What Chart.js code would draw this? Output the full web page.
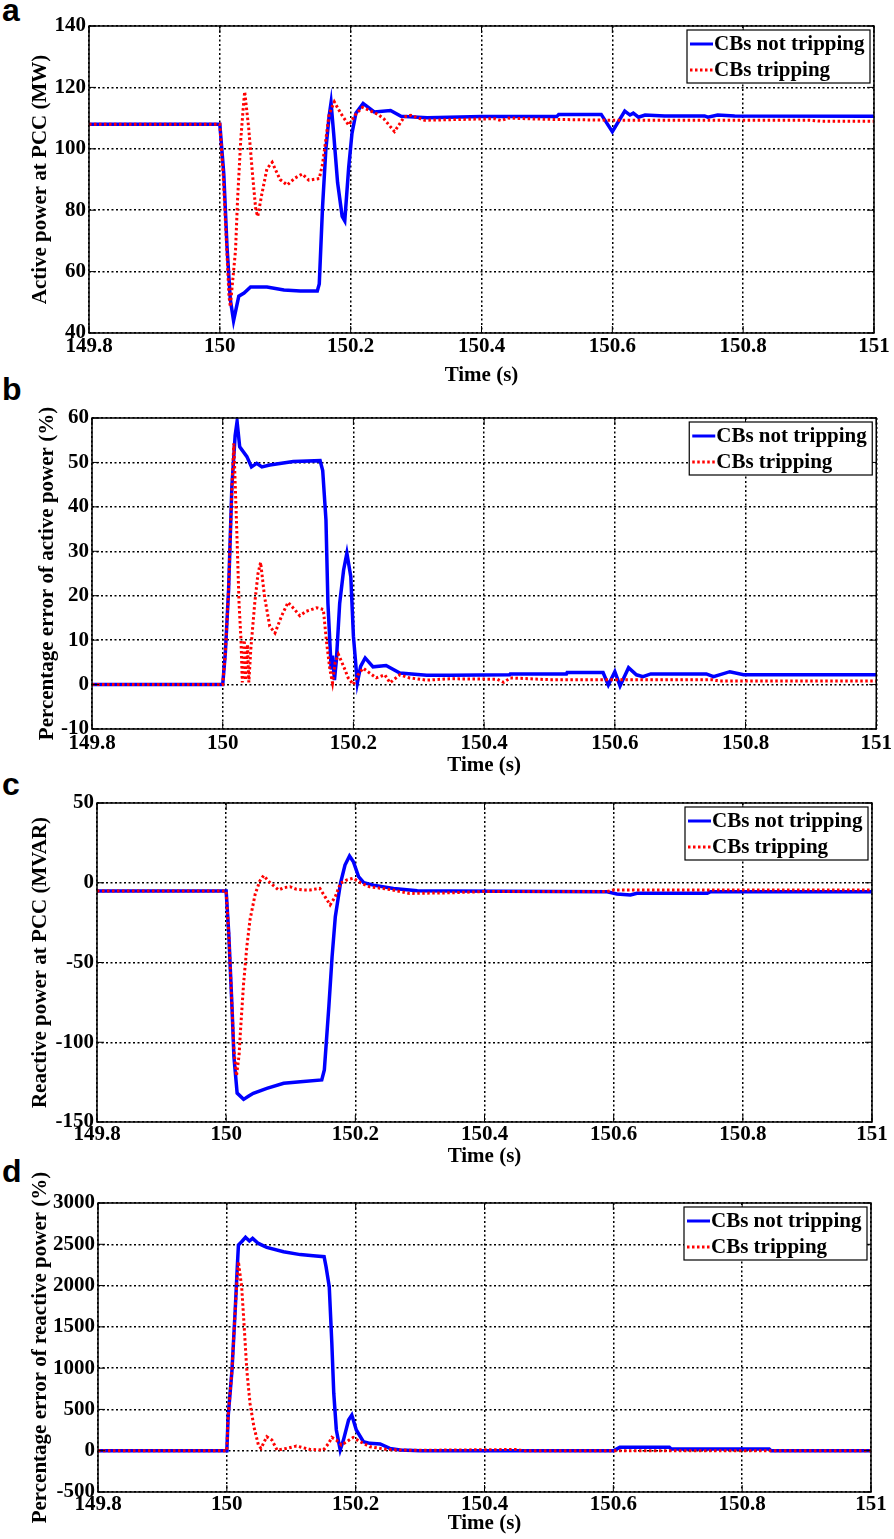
<!DOCTYPE html>
<html lang="en">
<head>
  <meta charset="UTF-8">
  <title>CBs tripping vs not tripping</title>
  <script src="https://cdn.jsdelivr.net/npm/chart.js"></script>
  <style>
    body { margin: 0; background: #fff; width: 894px; height: 1539px; position: relative; overflow: hidden; }
    canvas { position: absolute; left: 0; }
    .tag { position: absolute; left: 2px; font: bold 32px 'Liberation Sans', Arial, sans-serif; line-height: 1; }
  </style>
</head>
<body>
  <div class="tag" style="top:-6px">a</div>
  <div class="tag" style="top:373px">b</div>
  <div class="tag" style="top:768px">c</div>
  <div class="tag" style="top:1155px">d</div>
  <canvas id="chartA" width="894" height="388" style="top:0px"></canvas>
  <canvas id="chartB" width="894" height="390" style="top:388px"></canvas>
  <canvas id="chartC" width="894" height="391" style="top:778px"></canvas>
  <canvas id="chartD" width="894" height="367" style="top:1169px"></canvas>
  <script>
    const seriesNames = ['CBs not tripping', 'CBs tripping'];
    const timeRange = [149.8, 151];

    // a: active power at PCC (MW)
    const tA_not = [149.8, 150.0, 150.006, 150.011, 150.016, 150.021, 150.025, 150.029, 150.037, 150.047, 150.072, 150.098, 150.123, 150.149, 150.152, 150.157, 150.162, 150.167, 150.170, 150.174, 150.180, 150.187, 150.191, 150.197, 150.202, 150.208, 150.219, 150.236, 150.261, 150.277, 150.317, 150.4, 150.515, 150.518, 150.583, 150.6, 150.619, 150.627, 150.632, 150.64, 150.65, 150.68, 150.741, 150.746, 150.761, 150.787, 151];
    const pA_not = [108, 108, 92, 68, 51, 44, 48, 52, 53, 55, 55, 54, 53.7, 53.7, 56, 81, 99.6, 110.5, 115, 105, 89, 78, 76.5, 94, 105, 111.6, 114.8, 112, 112.5, 110.6, 110.1, 110.5, 110.5, 111.2, 111.2, 105.6, 112.3, 111, 111.6, 110.3, 111, 110.7, 110.7, 110.3, 111, 110.7, 110.6];
    const tA_trip = [149.8, 150.0, 150.005, 150.01, 150.014, 150.016, 150.024, 150.027, 150.032, 150.036, 150.038, 150.044, 150.05, 150.055, 150.058, 150.064, 150.072, 150.08, 150.092, 150.103, 150.115, 150.126, 150.136, 150.152, 150.157, 150.162, 150.167, 150.175, 150.185, 150.197, 150.208, 150.218, 150.241, 150.251, 150.267, 150.282, 150.292, 150.313, 150.354, 150.42, 150.43, 150.44, 150.5, 150.6, 150.9, 150.92, 151];
    const pA_trip = [108, 108, 92, 70, 52, 48.6, 67, 83, 103, 114, 118.6, 107, 91.6, 80, 78, 85, 93.5, 95.6, 90, 88.2, 90.5, 91.8, 89.8, 90.3, 95, 102.9, 111.3, 115.3, 111.5, 107.7, 111.3, 113.5, 111.3, 109.7, 105.6, 110.4, 110.9, 109.3, 109.5, 109.8, 109.2, 110, 109.6, 109.3, 109.3, 109, 109];

    // b: percentage error of active power (%)
    const tB_not = [149.8, 150.0, 150.004, 150.009, 150.014, 150.019, 150.022, 150.026, 150.037, 150.044, 150.052, 150.06, 150.072, 150.108, 150.149, 150.153, 150.158, 150.161, 150.166, 150.168, 150.171, 150.174, 150.179, 150.185, 150.19, 150.196, 150.2, 150.206, 150.211, 150.218, 150.23, 150.25, 150.271, 150.312, 150.348, 150.439, 150.44, 150.526, 150.527, 150.582, 150.59, 150.6, 150.608, 150.621, 150.633, 150.643, 150.655, 150.74, 150.751, 150.776, 150.797, 151];
    const eB_not = [0, 0, 7, 21.3, 44.5, 56, 59.2, 53.5, 51.3, 49, 49.8, 49, 49.4, 50.2, 50.4, 48.2, 37, 18.3, 3.4, 6.5, 1, 5.6, 18.3, 25.8, 29.6, 24.3, 10.9, 0.4, 4.1, 6, 4, 4.3, 2.6, 2.1, 2.1, 2.2, 2.4, 2.4, 2.7, 2.7, -0.1, 2.9, -0.3, 3.8, 2.2, 1.8, 2.4, 2.4, 1.8, 2.9, 2.2, 2.2];
    const tB_trip = [149.8, 150.0, 150.004, 150.009, 150.014, 150.017, 150.021, 150.025, 150.028, 150.03, 150.033, 150.035, 150.038, 150.04, 150.043, 150.049, 150.054, 150.058, 150.064, 150.072, 150.08, 150.09, 150.1, 150.11, 150.118, 150.128, 150.144, 150.154, 150.159, 150.164, 150.168, 150.172, 150.177, 150.185, 150.192, 150.2, 150.207, 150.215, 150.223, 150.235, 150.248, 150.256, 150.271, 150.286, 150.312, 150.348, 150.42, 150.43, 150.44, 150.5, 150.75, 150.76, 151];
    const eB_trip = [0, 0, 7, 21.3, 44, 54.3, 37, 18.3, 10, 0.5, 10, 1, 9, 0.5, 8, 18.3, 25, 27.5, 19.8, 13.1, 11.6, 15.4, 18.5, 16.9, 15.5, 16.5, 17.3, 16.9, 9.4, 3.4, 0.4, 4.9, 6.8, 4.1, 1.5, 0, 2.2, 3.7, 2.8, 1.5, 2.2, 0.4, 2.2, 1.5, 1, 1.3, 1.2, 0.5, 1.5, 1.1, 1.1, 0.8, 0.8];

    // c: reactive power at PCC (MVAR)
    const tC_not = [149.8, 150.0, 150.004, 150.009, 150.012, 150.017, 150.027, 150.035, 150.042, 150.063, 150.089, 150.115, 150.148, 150.152, 150.159, 150.164, 150.169, 150.177, 150.184, 150.191, 150.197, 150.205, 150.213, 150.228, 150.259, 150.296, 150.347, 150.59, 150.605, 150.626, 150.636, 150.745, 150.75, 151];
    const qC_not = [-5.2, -5.2, -31.7, -77.7, -109, -131.9, -135.8, -133.7, -132, -128.9, -125.7, -124.7, -123.6, -117.4, -77.7, -46.4, -21.3, -0.3, 11.1, 16.8, 13.2, 3.8, 0, -1.5, -3.6, -5, -5.2, -5.6, -7, -7.7, -6.6, -6.6, -5.6, -5.6];
    const tC_trip = [149.8, 150.0, 150.004, 150.009, 150.012, 150.016, 150.02, 150.022, 150.027, 150.032, 150.037, 150.045, 150.052, 150.058, 150.068, 150.081, 150.09, 150.099, 150.108, 150.119, 150.13, 150.145, 150.153, 150.161, 150.169, 150.177, 150.187, 150.197, 150.208, 150.222, 150.253, 150.284, 150.347, 150.4, 150.59, 150.6, 151];
    const qC_trip = [-5.2, -5.2, -31.7, -77.7, -105, -121, -108, -94, -63, -40, -23, -7, 1, 4.5, 0, -4.5, -3, -2.5, -4, -4.5, -4.5, -3.5, -8.7, -13.9, -8.7, -0.3, 1.8, 2.9, 0, -2.5, -4.2, -6.7, -6.3, -5.5, -5.5, -4.5, -4.5];

    // d: percentage error of reactive power (%)
    const tD_not = [149.8, 150.0, 150.002, 150.008, 150.013, 150.016, 150.018, 150.023, 150.029, 150.035, 150.04, 150.049, 150.062, 150.088, 150.114, 150.134, 150.151, 150.154, 150.159, 150.163, 150.166, 150.17, 150.176, 150.181, 150.189, 150.194, 150.201, 150.212, 150.222, 150.238, 150.253, 150.269, 150.3, 150.6, 150.61, 150.687, 150.69, 150.842, 150.845, 151];
    const eD_not = [0, 0, 411, 977, 1704, 2189, 2491, 2531, 2585, 2540, 2572, 2510, 2463, 2410, 2375, 2362, 2350, 2229, 1987, 1301, 696, 251, 8, 129, 372, 432, 251, 109, 89, 81, 28, 8, 0, 0, 41, 41, 21, 21, 0, 0];
    const tD_trip = [149.8, 150.0, 150.002, 150.008, 150.013, 150.016, 150.018, 150.023, 150.026, 150.031, 150.036, 150.042, 150.049, 150.053, 150.062, 150.07, 150.078, 150.093, 150.108, 150.129, 150.15, 150.158, 150.163, 150.17, 150.178, 150.186, 150.196, 150.207, 150.222, 150.248, 150.269, 150.3, 150.45, 150.46, 151];
    const eD_trip = [0, 0, 411, 977, 1704, 2100, 2289, 1987, 1623, 977, 573, 291, 69, 28, 170, 129, 8, 28, 57, 16, 8, 89, 161, 129, 69, 109, 161, 109, 48, 16, 8, 5, 15, 0, 0];

    const pts = (t, v) => t.map((x, i) => ({ x: x, y: v[i] }));
    const serif = "'Liberation Serif', 'Times New Roman', serif";
    const blue = '#0000ff';
    const red = '#ff0000';
    const redDash = [2.5, 2.5];

    // frame, inward tick marks and the boxed legend (Matlab look)
    const matlabBox = {
      id: 'matlabBox',
      afterDraw(chart) {
        const ctx = chart.ctx;
        const a = chart.chartArea;
        const xs = chart.scales.x, ys = chart.scales.y;
        ctx.save();
        ctx.strokeStyle = '#000';
        ctx.lineWidth = 1;
        ctx.beginPath();
        xs.ticks.forEach(t => {
          const px = xs.getPixelForValue(t.value);
          ctx.moveTo(px, a.bottom); ctx.lineTo(px, a.bottom - 7);
          ctx.moveTo(px, a.top); ctx.lineTo(px, a.top + 7);
        });
        ys.ticks.forEach(t => {
          const py = ys.getPixelForValue(t.value);
          ctx.moveTo(a.left, py); ctx.lineTo(a.left + 7, py);
          ctx.moveTo(a.right, py); ctx.lineTo(a.right - 7, py);
        });
        ctx.stroke();
        ctx.lineWidth = 1.5;
        ctx.strokeRect(a.left, a.top, a.right - a.left, a.bottom - a.top);

        // legend
        const w = 183, h = 53;
        const bx = a.right - 4 - w, by = a.top + 4;
        ctx.fillStyle = '#fff';
        ctx.fillRect(bx, by, w, h);
        ctx.lineWidth = 1.2;
        ctx.strokeRect(bx, by, w, h);
        ctx.font = 'bold 21px ' + serif;
        ctx.textBaseline = 'middle';
        ctx.textAlign = 'left';
        chart.data.datasets.forEach((ds, i) => {
          const y = by + 14 + i * 26;
          ctx.strokeStyle = ds.borderColor;
          ctx.lineWidth = 3;
          ctx.setLineDash(ds.borderDash || []);
          ctx.beginPath();
          ctx.moveTo(bx + 3, y); ctx.lineTo(bx + 26, y);
          ctx.stroke();
          ctx.setLineDash([]);
          ctx.fillStyle = '#000';
          ctx.fillText(ds.label, bx + 27, y + 1);
        });
        ctx.restore();
      }
    };

    function makePanel(cfg) {
      const canvas = document.getElementById(cfg.id);
      const H = canvas.height;
      return new Chart(canvas.getContext('2d'), {
        type: 'line',
        data: {
          datasets: [
            { label: seriesNames[0], data: cfg.notTrip, borderColor: blue, borderWidth: 3.5, pointRadius: 0, tension: 0, order: 1 },
            { label: seriesNames[1], data: cfg.trip, borderColor: red, borderWidth: 3, borderDash: redDash, pointRadius: 0, tension: 0, order: 0 }
          ]
        },
        options: {
          responsive: false,
          animation: false,
          devicePixelRatio: 1,
          layout: { padding: { top: cfg.plotTop, right: 894 - cfg.right, left: 0, bottom: 0 } },
          plugins: { legend: { display: false }, tooltip: { enabled: false } },
          scales: {
            x: {
              type: 'linear',
              min: timeRange[0],
              max: timeRange[1],
              grid: { color: '#000', lineWidth: 1.5, drawTicks: false },
              border: { display: false, dash: [2, 2.5] },
              ticks: {
                stepSize: 0.2, autoSkip: false, maxRotation: 0, padding: cfg.xTickPad, color: '#000',
                font: { family: serif, weight: 'bold', size: 21 },
                callback: v => String(Math.round(v * 10) / 10)
              },
              title: { display: true, text: 'Time (s)', color: '#000', padding: 0, font: { family: serif, weight: 'bold', size: 21 } },
              afterFit: s => { s.height = H - cfg.plotBottom; }
            },
            y: {
              min: cfg.yMin,
              max: cfg.yMax,
              grid: { color: '#000', lineWidth: 1.5, drawTicks: false },
              border: { display: false, dash: [2, 2.5] },
              ticks: {
                stepSize: cfg.yStep, autoSkip: false, padding: 3, color: '#000',
                font: { family: serif, weight: 'bold', size: 21 },
                callback: v => String(v)
              },
              title: { display: true, text: cfg.yTitle, color: '#000', padding: { top: cfg.yTitlePad, bottom: 0 }, font: { family: serif, weight: 'bold', size: 21 } },
              afterFit: s => { s.width = cfg.left; }
            }
          }
        },
        plugins: [matlabBox]
      });
    }

    makePanel({ id: 'chartA', left: 89, right: 874, plotTop: 26, plotBottom: 333, xTickPad: 1, yMin: 40, yMax: 140, yStep: 20, yTitle: 'Active power at PCC (MW)', yTitlePad: 28, notTrip: pts(tA_not, pA_not), trip: pts(tA_trip, pA_trip) });
    makePanel({ id: 'chartB', left: 92, right: 877, plotTop: 30, plotBottom: 341, xTickPad: 2, yMin: -10, yMax: 60, yStep: 10, yTitle: 'Percentage error of active power (%)', yTitlePad: 35, notTrip: pts(tB_not, eB_not), trip: pts(tB_trip, eB_trip) });
    makePanel({ id: 'chartC', left: 97, right: 872, plotTop: 25, plotBottom: 344, xTickPad: 0, yMin: -150, yMax: 50, yStep: 50, yTitle: 'Reactive power at PCC (MVAR)', yTitlePad: 28, notTrip: pts(tC_not, qC_not), trip: pts(tC_trip, qC_trip) });
    makePanel({ id: 'chartD', left: 98, right: 871, plotTop: 34, plotBottom: 323, xTickPad: 0, yMin: -500, yMax: 3000, yStep: 500, yTitle: 'Percentage error of reactive power (%)', yTitlePad: 28, notTrip: pts(tD_not, eD_not), trip: pts(tD_trip, eD_trip) });
  </script>
</body>
</html>
